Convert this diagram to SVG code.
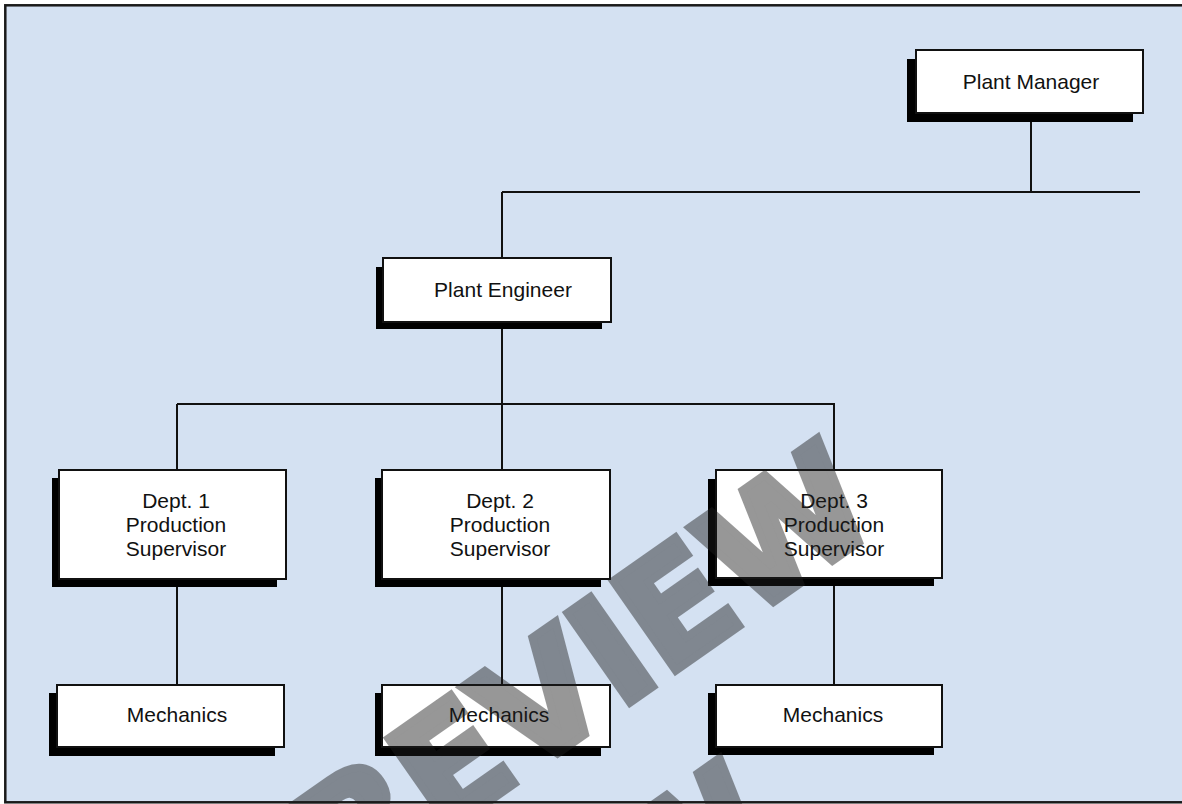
<svg xmlns="http://www.w3.org/2000/svg" width="1182" height="804" viewBox="0 0 1182 804">
<style>
.frame{fill:#d4e1f2;stroke:#1a1a1a;stroke-width:2.5}
.shadow{fill:#000}
.box{fill:#fff;stroke:#111;stroke-width:2}
.lbl{font-family:"Liberation Sans",Arial,Helvetica,sans-serif;font-size:21px;fill:#111;text-anchor:middle}
.conn{stroke:#111;stroke-width:2;fill:none}
.wm{font-family:"DejaVu Sans",sans-serif;font-weight:bold;font-size:150px;fill:#1e1e1e;stroke:#1e1e1e;stroke-width:8;stroke-linejoin:miter;text-anchor:middle}
</style>
<rect class="frame" x="5.3" y="5.3" width="1190" height="797"/>
<g id="connectors">
<path class="conn" d="M1031 113 V192 M502 192 H1140 M502 192 V258"/>
<path class="conn" d="M502 322 V404 M177 404 H835 M177 404 V470 M502 404 V470 M834 404 V470"/>
<path class="conn" d="M177 579 V685 M502 579 V685 M834 578 V685"/>
</g>
<g id="plant-manager">
<rect class="shadow" x="907" y="59" width="226" height="63"/>
<rect class="box" x="916" y="50" width="227" height="63"/>
<text class="lbl" x="1031" y="89">Plant Manager</text>
</g>
<g id="plant-engineer">
<rect class="shadow" x="376" y="267" width="226" height="62"/>
<rect class="box" x="383" y="258" width="228" height="64"/>
<text class="lbl" x="503" y="297">Plant Engineer</text>
</g>
<g id="dept1">
<rect class="shadow" x="52" y="478" width="225" height="109"/>
<rect class="box" x="59" y="470" width="227" height="109"/>
<text class="lbl" x="176" y="508">Dept. 1</text>
<text class="lbl" x="176" y="532">Production</text>
<text class="lbl" x="176" y="556">Supervisor</text>
</g>
<g id="dept2">
<rect class="shadow" x="375" y="478" width="226" height="109"/>
<rect class="box" x="382" y="470" width="228" height="109"/>
<text class="lbl" x="500" y="508">Dept. 2</text>
<text class="lbl" x="500" y="532">Production</text>
<text class="lbl" x="500" y="556">Supervisor</text>
</g>
<g id="dept3">
<rect class="shadow" x="708" y="479" width="226" height="107"/>
<rect class="box" x="716" y="470" width="226" height="108"/>
<text class="lbl" x="834" y="508">Dept. 3</text>
<text class="lbl" x="834" y="532">Production</text>
<text class="lbl" x="834" y="556">Supervisor</text>
</g>
<g id="mechanics1">
<rect class="shadow" x="49" y="693" width="226" height="63"/>
<rect class="box" x="57" y="685" width="227" height="62"/>
<text class="lbl" x="177" y="722">Mechanics</text>
</g>
<g id="mechanics2">
<rect class="shadow" x="375" y="693" width="226" height="63"/>
<rect class="box" x="382" y="685" width="228" height="62"/>
<text class="lbl" x="499" y="722">Mechanics</text>
</g>
<g id="mechanics3">
<rect class="shadow" x="708" y="693" width="226" height="62"/>
<rect class="box" x="716" y="685" width="226" height="62"/>
<text class="lbl" x="833" y="722">Mechanics</text>
</g>
<g id="watermark" opacity="0.46">
<text class="wm" transform="translate(538,700) rotate(-35)" x="0" y="55">PREVIEW</text>
<text class="wm" transform="translate(440,1020) rotate(-35)" x="0" y="55">PREVIEW</text>
</g>
</svg>
